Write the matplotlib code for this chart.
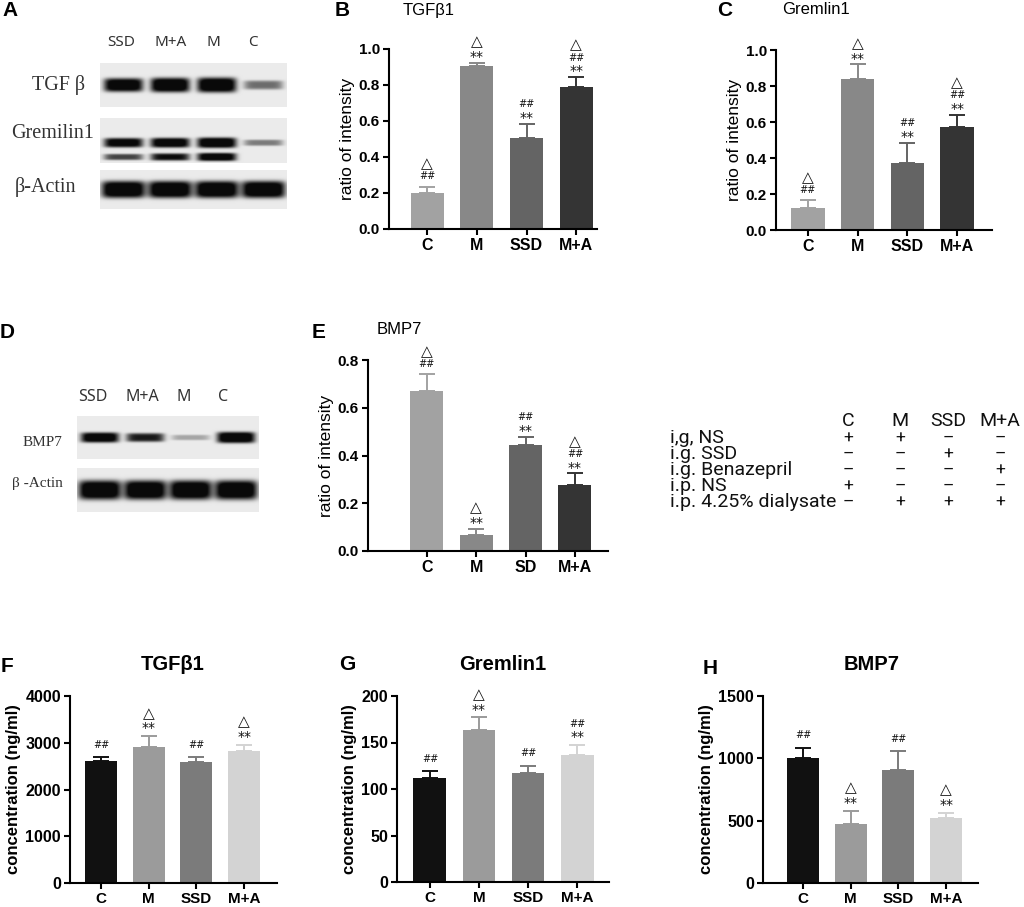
import numpy as np
import matplotlib
matplotlib.use("Agg")
import matplotlib.pyplot as plt

plt.rcParams['font.family'] = ['Liberation Sans', 'DejaVu Sans']

# ---- data ----
groups = ['C', 'M', 'SSD', 'M+A']
groups_e = ['C', 'M', 'SD', 'M+A']
lanes = ['SSD', 'M+A', 'M', 'C']

# western blot ratios (B, C, E)
tgf_ratio = [0.20, 0.905, 0.505, 0.79]
tgf_ratio_err = [0.035, 0.02, 0.08, 0.055]
grem_ratio = [0.12, 0.84, 0.37, 0.57]
grem_ratio_err = [0.045, 0.08, 0.115, 0.07]
bmp_ratio = [0.67, 0.065, 0.445, 0.275]
bmp_ratio_err = [0.07, 0.027, 0.033, 0.05]

# serum concentrations (F, G, H)
tgf_conc = [2610, 2900, 2580, 2830]
tgf_conc_err = [80, 240, 110, 130]
grem_conc = [112, 163, 117, 137]
grem_conc_err = [7, 14, 8, 10]
bmp_conc = [1000, 475, 910, 518]
bmp_conc_err = [82, 103, 145, 44]

# significance marks, bottom to top
marks_b = [['##', '△'], ['**', '△'], ['**', '##'], ['**', '##', '△']]
marks_c = [['##', '△'], ['**', '△'], ['**', '##'], ['**', '##', '△']]
marks_e = [['##', '△'], ['**', '△'], ['**', '##'], ['**', '##', '△']]
marks_f = [['##'], ['**', '△'], ['##'], ['**', '△']]
marks_g = [['##'], ['**', '△'], ['##'], ['**', '##']]
marks_h = [['##'], ['**', '△'], ['##'], ['**', '△']]

# blot band strengths, lane order SSD, M+A, M, C
tgf_bands = [0.85, 0.95, 1.0, 0.35]
grem_upper = [0.8, 0.85, 0.95, 0.3]
grem_lower = [0.5, 0.7, 0.85, 0.0]
actin_a = [1.0, 1.0, 1.0, 1.0]
bmp_bands = [0.85, 0.65, 0.15, 1.0]
actin_d = [1.0, 1.0, 1.0, 1.0]

# treatment table
tab_cols = ['C', 'M', 'SSD', 'M+A']
tab_rows = ['i,g, NS', 'i.g. SSD', 'i.g. Benazepril', 'i.p. NS', 'i.p. 4.25% dialysate']
tab_signs = [['+', '+', '–', '–'],
             ['–', '–', '+', '–'],
             ['–', '–', '–', '+'],
             ['+', '–', '–', '–'],
             ['–', '+', '+', '+']]

top_cols = ['#a2a2a2', '#888888', '#646464', '#343434']
bot_cols = ['#111111', '#9b9b9b', '#7b7b7b', '#d3d3d3']

# mark glyph: font size, ink bottom and top (in em, DejaVu Sans)
mark_style = {'**': (10, 0.42, 0.77), '##': (7, 0.0, 0.73), '△': (11, 0.0, 0.78)}

W, H = 1024, 907
fig = plt.figure(figsize=(W / 100, H / 100), dpi=100)


def px_axes(l, r, t, b):
    return fig.add_axes([l / W, 1 - b / H, (r - l) / W, (b - t) / H])


ov = fig.add_axes([0, 0, 1, 1], zorder=-1)
ov.set_xlim(0, W)
ov.set_ylim(H, 0)
ov.axis('off')


def bar_panel(box, vals, errs, cols, labels, ylim, yticks, yfmt, marks, ylabel,
              xlim, yfs, xfs, lfs, lweight, gap0):
    ax = px_axes(*box)
    x = np.arange(len(vals))
    ax.bar(x, vals, width=0.67, color=cols, zorder=2)
    for xi, v, e, c, m in zip(x, vals, errs, cols, marks):
        ax.errorbar(xi, v, yerr=[[0], [e]], color=c, capsize=6, lw=1.4,
                    capthick=1.4, zorder=1)
        cur = gap0
        for s in m:
            fs, lo, hi = mark_style[s]
            base = cur - lo * fs
            ax.annotate(s, (xi, v + e), xytext=(0, base),
                        textcoords='offset points', ha='center', va='baseline',
                        fontsize=fs, family=['DejaVu Sans'], color='#111111',
                        annotation_clip=False)
            cur = base + hi * fs + 2.8
    ax.set_xlim(*xlim)
    ax.set_ylim(*ylim)
    ax.set_yticks(yticks)
    ax.set_yticklabels([yfmt.format(t) for t in yticks], fontsize=yfs,
                       fontweight='bold')
    ax.set_xticks(x)
    ax.set_xticklabels(labels, fontsize=xfs, fontweight='bold')
    for s in ['top', 'right']:
        ax.spines[s].set_visible(False)
    for s in ['left', 'bottom']:
        ax.spines[s].set_linewidth(1.5)
    ax.tick_params(length=4.5, width=1.5, pad=2)
    ax.set_ylabel(ylabel, fontsize=lfs, fontweight=lweight, labelpad=3)
    ax.patch.set_alpha(0)
    return ax


bar_panel((389, 597, 49, 229), tgf_ratio, tgf_ratio_err, top_cols, groups,
          (0, 1.0), [0, 0.2, 0.4, 0.6, 0.8, 1.0], '{:.1f}', marks_b,
          'ratio of intensity', (-0.77, 3.42), 11, 11.5, 12.5, 'normal', 5.5)
bar_panel((776, 992, 50, 230), grem_ratio, grem_ratio_err, top_cols, groups,
          (0, 1.0), [0, 0.2, 0.4, 0.6, 0.8, 1.0], '{:.1f}', marks_c,
          'ratio of intensity', (-0.64, 3.7), 11, 11.5, 12.5, 'normal', 5.5)
bar_panel((368, 608, 360, 551), bmp_ratio, bmp_ratio_err, top_cols, groups_e,
          (0, 0.8), [0, 0.2, 0.4, 0.6, 0.8], '{:.1f}', marks_e,
          'ratio of intensity', (-1.19, 3.67), 11, 11.5, 12.5, 'normal', 5.5)
bar_panel((70, 277, 696, 883), tgf_conc, tgf_conc_err, bot_cols, groups,
          (0, 4000), [0, 1000, 2000, 3000, 4000], '{:d}', marks_f,
          'concentration (ng/ml)', (-0.65, 3.69), 11.5, 11, 12, 'bold', 7)
bar_panel((397, 609, 696, 882), grem_conc, grem_conc_err, bot_cols, groups,
          (0, 200), [0, 50, 100, 150, 200], '{:d}', marks_g,
          'concentration (ng/ml)', (-0.67, 3.65), 11.5, 11, 12, 'bold', 7)
bar_panel((763, 978, 696, 883), bmp_conc, bmp_conc_err, bot_cols, groups,
          (0, 1500), [0, 500, 1000, 1500], '{:d}', marks_h,
          'concentration (ng/ml)', (-0.84, 3.67), 11.5, 11, 12, 'bold', 7)


# ---- western blot strips ----
def blot(box, band_sets, lane_w=0.42):
    l, r, t, b = box
    xs = np.linspace(0, 4, int((r - l) * 2))
    ys = np.linspace(0, 1, int((b - t) * 2))
    X, Y = np.meshgrid(xs, ys)
    img = np.full(X.shape, 0.92)
    for yc, hh, lev in band_sets:
        for i, v in enumerate(lev):
            if v <= 0:
                continue
            dx = (X - (i + 0.5)) / lane_w
            dy = (Y - yc) / (hh * (0.4 + 0.6 * v))
            img -= 1.1 * min(1, v + 0.1) * np.exp(-dx ** 6 - dy ** 4)
    img = np.clip(img, 0.04, 1)
    ov.imshow(img, cmap='gray', vmin=0, vmax=1, extent=(l, r, b, t),
              aspect='auto', interpolation='bilinear')


blot((100, 287, 63, 107), [(0.5, 0.17, tgf_bands)])
blot((100, 287, 118, 163), [(0.55, 0.12, grem_upper), (0.87, 0.1, grem_lower)])
blot((100, 287, 170, 209), [(0.5, 0.22, actin_a)], lane_w=0.47)
blot((77, 259, 416, 459), [(0.5, 0.13, bmp_bands)])
blot((77, 259, 468, 512), [(0.5, 0.22, actin_d)], lane_w=0.47)
ov.set_xlim(0, W)
ov.set_ylim(H, 0)

for s, xp in zip(lanes, [121, 171, 213, 253]):
    ov.text(xp, 43, s, ha='center', va='center', fontsize=11,
            family=['Noto Sans'], color='#333333')
for s, xp in zip(lanes, [93, 142, 184, 223]):
    ov.text(xp, 397, s, ha='center', va='center', fontsize=11.5,
            family=['Noto Sans'], color='#333333')

serif = ['Liberation Serif', 'DejaVu Serif']
ov.text(59, 85, 'TGF β', ha='center', va='center', fontsize=14.5, family=serif, color='#333333')
ov.text(53, 133, 'Gremilin1', ha='center', va='center', fontsize=14.5, family=serif, color='#333333')
ov.text(45, 187, 'β-Actin', ha='center', va='center', fontsize=14.5, family=serif, color='#333333')
ov.text(42, 442, 'BMP7', ha='center', va='center', fontsize=11, family=serif, color='#333333')
ov.text(37, 484, 'β -Actin', ha='center', va='center', fontsize=11, family=serif, color='#333333')

# ---- panel letters and titles ----
for s, xp, yp in [('A', 10, 11), ('B', 342, 10), ('C', 725, 10), ('D', 7, 332),
                  ('E', 319, 332), ('F', 7, 667), ('G', 347, 664), ('H', 710, 668)]:
    ov.text(xp, yp, s, ha='center', va='center', fontsize=15, fontweight='bold')

ov.text(403, 11, 'TGFβ1', ha='left', va='center', fontsize=12)
ov.text(782, 10, 'Gremlin1', ha='left', va='center', fontsize=12)
ov.text(377, 330, 'BMP7', ha='left', va='center', fontsize=12)

ov.text(173, 665, 'TGFβ1', ha='center', va='center', fontsize=14.5, fontweight='bold')
ov.text(503, 665, 'Gremlin1', ha='center', va='center', fontsize=14.5, fontweight='bold')
ov.text(872, 665, 'BMP7', ha='center', va='center', fontsize=14.5, fontweight='bold')

# ---- treatment table ----
tfont = ['Roboto', 'DejaVu Sans']
col_x = [848, 900, 948, 1000]
for s, xp in zip(tab_cols, col_x):
    ov.text(xp, 426, s, ha='center', va='baseline', fontsize=14, family=tfont,
            color='#111111')
for k, (lab, signs) in enumerate(zip(tab_rows, tab_signs)):
    yb = 443 + 16 * k
    ov.text(670, yb, lab, ha='left', va='baseline', fontsize=14, family=tfont,
            color='#111111')
    for s, xp in zip(signs, col_x):
        ov.text(xp, yb, s, ha='center', va='baseline', fontsize=12.5,
                family=tfont, color='#111111')

fig.savefig('out.png', dpi=100)
